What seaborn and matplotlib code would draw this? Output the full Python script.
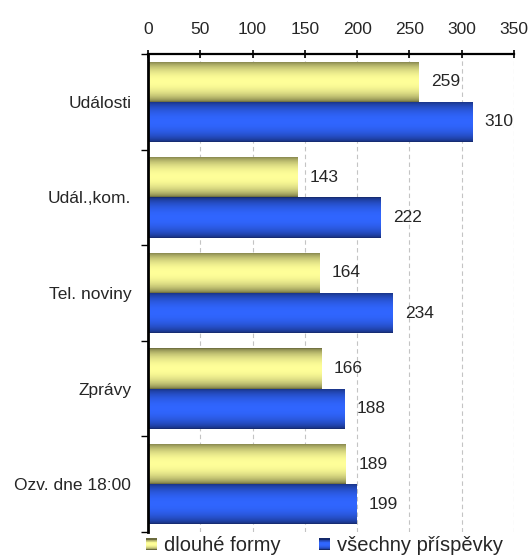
import numpy as np
import pandas as pd
import matplotlib.pyplot as plt
import seaborn as sns
from matplotlib.patches import Rectangle, Patch
from matplotlib.legend_handler import HandlerBase

# Data

kategorie = ["Události", "Udál.,kom.", "Tel. noviny", "Zprávy", "Ozv. dne 18:00"]
dlouhe_formy = [259, 143, 164, 166, 189]
vsechny_prispevky = [310, 222, 234, 188, 199]
serie = ["dlouhé formy", "všechny příspěvky"]
x_ticks = [0, 50, 100, 150, 200, 250, 300, 350]

df = pd.DataFrame({
    "kategorie": kategorie * 2,
    "pocet": dlouhe_formy + vsechny_prispevky,
    "serie": [serie[0]] * len(kategorie) + [serie[1]] * len(kategorie),
})

# colours: dark edge / light centre of the gradient
yellow_dark, yellow_light = np.array([0.42, 0.42, 0.24]), np.array([1.0, 1.0, 0.60])
blue_dark, blue_light = np.array([0.08, 0.16, 0.42]), np.array([0.19, 0.40, 1.0])


def gradient(dark, light, n=64):
    t = np.linspace(0, 1, n)
    w = np.sin(np.pi * t) ** 0.6
    return dark * (1 - w)[:, None] + light * w[:, None]


sns.set_style("white")
plt.rcParams["font.family"] = ["Liberation Sans", "DejaVu Sans"]

fig = plt.figure(figsize=(5.31, 5.56), dpi=100)
ax = fig.add_axes([0.2787, 0.0432, 0.6893, 0.8597])

sns.barplot(data=df, y="kategorie", x="pocet", hue="serie", orient="h",
            palette=["#e0e080", "#2f5ce0"], width=0.84, legend=False, ax=ax)

# value labels
for cont in ax.containers:
    ax.bar_label(cont, padding=9, fontsize=12.5)

# gradient fill on every bar
n_cat = len(kategorie)
for i, patch in enumerate(ax.patches):
    if i >= 2 * n_cat:
        break
    dark, light = (yellow_dark, yellow_light) if i < n_cat else (blue_dark, blue_light)
    x0, y0 = patch.get_x(), patch.get_y()
    w, h = patch.get_width(), patch.get_height()
    img = gradient(dark, light)[:, None, :]
    im = ax.imshow(img, extent=[x0, x0 + w, y0 + h, y0], aspect="auto",
                   interpolation="bilinear", zorder=2)
    im.set_clip_path(patch)
    patch.set_edgecolor("none")

ax.set_xlim(0, 350)
ax.set_ylim(n_cat - 0.5, -0.5)
ax.set_xlabel("")
ax.set_ylabel("")

# axes styling
ax.xaxis.tick_top()
ax.set_xticks(x_ticks)
ax.tick_params(axis="x", direction="inout", length=6, width=1.2, pad=9, labelsize=12.5, color="black")
ax.xaxis.grid(True, linestyle=(0, (4, 3)), color="#c4c4c4", lw=0.8)
ax.set_axisbelow(True)

ax.set_yticks(np.arange(-0.5, n_cat, 1), minor=True)
ax.tick_params(axis="y", which="major", length=0, pad=12, labelsize=12.5)
ax.tick_params(axis="y", which="minor", length=5, width=1, direction="out", color="black", left=True)

for side in ["bottom", "right"]:
    ax.spines[side].set_visible(False)
ax.spines["top"].set_color("black")
ax.spines["top"].set_linewidth(1.6)
ax.spines["left"].set_color("black")
ax.spines["left"].set_linewidth(2)


# legend with gradient squares
class GradHandler(HandlerBase):
    def __init__(self, dark, light):
        super().__init__()
        self.dark, self.light = dark, light

    def create_artists(self, legend, orig_handle, xdescent, ydescent, width, height, fontsize, trans):
        size = height * 0.9
        x0 = -xdescent + (width - size) / 2
        y0 = -ydescent + (height - size) / 2
        cols = gradient(self.dark, self.light, 12)
        arts = []
        for k, c in enumerate(cols[::-1]):
            r = Rectangle((x0, y0 + k * size / 12), size, size / 12 + 0.2,
                          facecolor=c, edgecolor="none", transform=trans)
            arts.append(r)
        return arts


h1, h2 = Patch(label=serie[0]), Patch(label=serie[1])
fig.legend([h1, h2], serie, loc="center left", bbox_to_anchor=(0.274, 0.018),
           ncol=2, frameon=False, fontsize=14.5, handlelength=0.6, handleheight=0.6,
           handletextpad=0.3, columnspacing=1.9, borderaxespad=0, borderpad=0,
           handler_map={h1: GradHandler(yellow_dark, yellow_light),
                        h2: GradHandler(blue_dark, blue_light)})

fig.savefig("out.png", dpi=100)
